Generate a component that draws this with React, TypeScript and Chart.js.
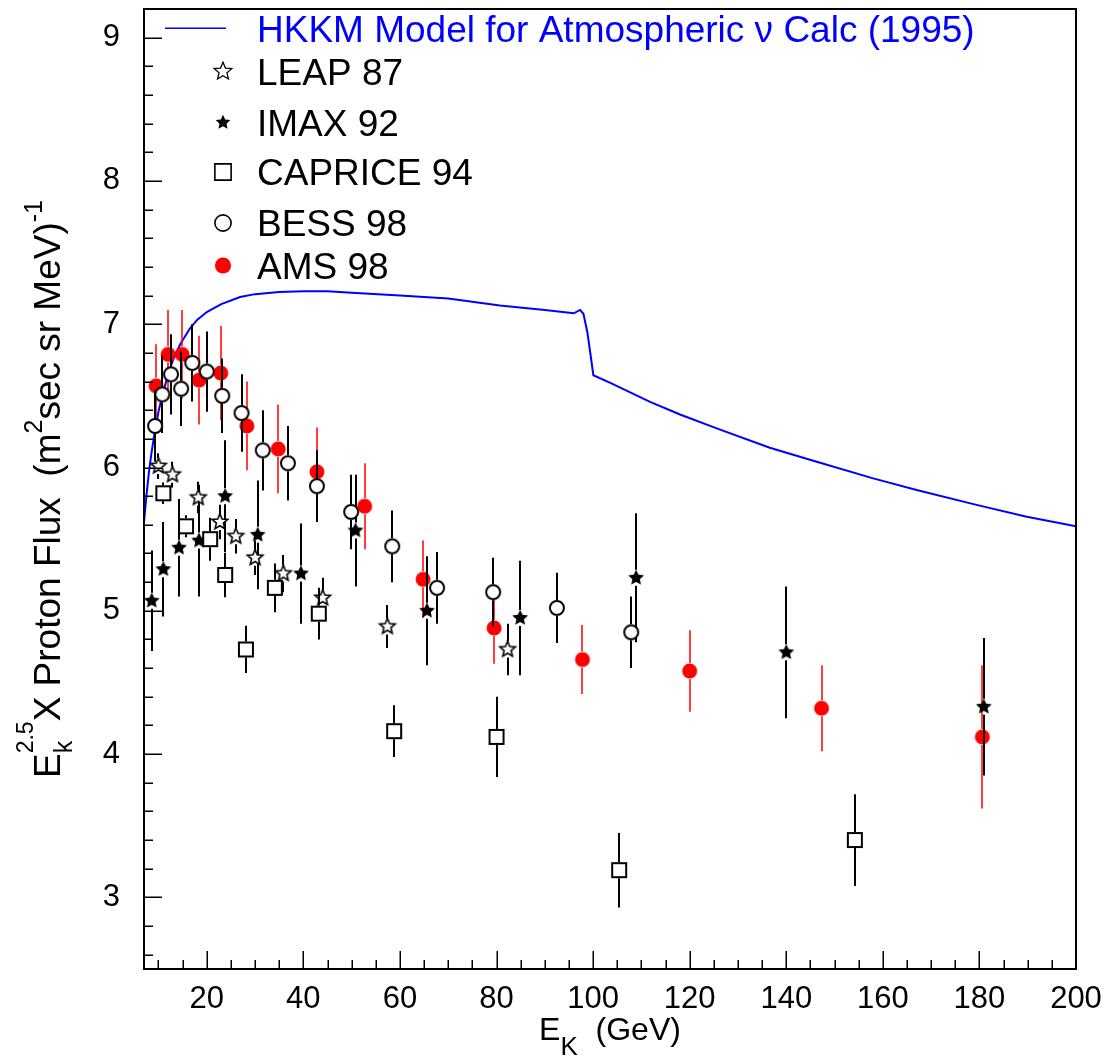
import React, { useEffect, useRef } from "react";
import { Chart, registerables } from "chart.js";

Chart.register(...registerables);

const FONT = '"Liberation Sans", Arial, Helvetica, sans-serif';

// Axis tick values
const X_TICKS = [20, 40, 60, 80, 100, 120, 140, 160, 180, 200];
const Y_TICKS = [3, 4, 5, 6, 7, 8, 9];

// HKKM model (1995) curve
const HKKM_E = [7.0, 7.5, 8.0, 8.5, 9.0, 9.5, 10.0, 11.0, 12.0, 13.0, 14.5, 16.5, 18.0, 20.0, 23.0, 26.9, 30.0, 35.0, 40.0, 45.0, 50.0, 60.0, 70.0, 80.7, 90.0, 96.0, 97.3, 98.0, 98.8, 99.5, 100.05, 103.9, 111.8, 118.0, 125.6, 136.6, 145.6, 158.0, 167.0, 179.4, 189.8, 200.0];
const HKKM_FLUX = [5.62, 5.8, 5.96, 6.09, 6.2, 6.3, 6.39, 6.53, 6.65, 6.75, 6.86, 6.97, 7.03, 7.085, 7.14, 7.19, 7.21, 7.225, 7.23, 7.23, 7.22, 7.2, 7.18, 7.13, 7.1, 7.076, 7.1, 7.073, 6.946, 6.78, 6.644, 6.586, 6.458, 6.37, 6.273, 6.138, 6.047, 5.924, 5.843, 5.739, 5.657, 5.59];

// LEAP 87
const LEAP_E = [10.0, 12.9, 18.25, 22.7, 26.0, 30.0, 35.85, 44.0, 57.4, 82.3];
const LEAP_FLUX = [6.01, 5.95, 5.79, 5.62, 5.52, 5.37, 5.26, 5.09, 4.89, 4.73];
const LEAP_ERR = [0.09, 0.09, 0.11, 0.12, 0.12, 0.12, 0.13, 0.14, 0.15, 0.18];

// IMAX 92
const IMAX_E = [8.6, 11.0, 14.25, 18.4, 23.8, 30.55, 39.5, 50.8, 65.6, 84.9, 108.9, 140.0, 180.9];
const IMAX_FLUX = [5.07, 5.29, 5.44, 5.49, 5.8, 5.53, 5.26, 5.56, 5.0, 4.95, 5.23, 4.71, 4.33];
const IMAX_ERR = [0.35, 0.33, 0.34, 0.39, 0.39, 0.38, 0.35, 0.39, 0.38, 0.4, 0.45, 0.46, 0.48];

// CAPRICE 94
const CAPRICE_E = [11.0, 15.7, 20.7, 23.8, 28.1, 34.1, 43.2, 58.8, 80.0, 105.4, 154.2];
const CAPRICE_FLUX = [5.82, 5.59, 5.5, 5.25, 4.73, 5.16, 4.98, 4.16, 4.12, 3.19, 3.4];
const CAPRICE_ERR = [0.075, 0.077, 0.15, 0.155, 0.165, 0.17, 0.18, 0.18, 0.28, 0.26, 0.32];

// BESS 98
const BESS_E = [9.3, 10.8, 12.6, 14.7, 17.0, 20.0, 23.2, 27.2, 31.6, 36.8, 42.8, 49.9, 58.4, 67.7, 79.3, 92.5, 107.9];
const BESS_FLUX = [6.29, 6.51, 6.65, 6.55, 6.73, 6.67, 6.5, 6.38, 6.12, 6.03, 5.87, 5.69, 5.45, 5.16, 5.13, 5.02, 4.85];
const BESS_ERR = [0.25, 0.27, 0.28, 0.26, 0.27, 0.28, 0.26, 0.27, 0.28, 0.26, 0.25, 0.26, 0.25, 0.25, 0.24, 0.245, 0.25];

// AMS 98
const AMS_E = [9.5, 12.0, 14.9, 18.4, 22.9, 28.3, 34.8, 42.8, 52.7, 64.8, 79.5, 97.8, 120.0, 147.3, 180.6];
const AMS_FLUX = [6.57, 6.79, 6.79, 6.61, 6.66, 6.29, 6.13, 5.97, 5.73, 5.22, 4.88, 4.66, 4.58, 4.32, 4.12];
const AMS_ERR = [0.29, 0.31, 0.31, 0.31, 0.33, 0.31, 0.31, 0.31, 0.3, 0.27, 0.25, 0.24, 0.285, 0.3, 0.5];

const LEGEND_LABELS = [
  "HKKM Model for Atmospheric \u03bd Calc (1995)",
  "LEAP 87",
  "IMAX 92",
  "CAPRICE 94",
  "BESS 98",
  "AMS 98",
];

type MarkerKind = "openStar" | "filledStar" | "openSquare" | "openCircle" | "redDot";

function starPath(ctx: CanvasRenderingContext2D, cx: number, cy: number, R: number, r: number) {
  ctx.beginPath();
  for (let i = 0; i < 10; i++) {
    const rad = i % 2 === 0 ? R : r;
    const a = -Math.PI / 2 + (i * Math.PI) / 5;
    const x = cx + rad * Math.cos(a);
    const y = cy + rad * Math.sin(a);
    if (i === 0) ctx.moveTo(x, y);
    else ctx.lineTo(x, y);
  }
  ctx.closePath();
}

function drawMarker(ctx: CanvasRenderingContext2D, kind: MarkerKind, cx: number, cy: number, s: number, lw: number) {
  ctx.save();
  ctx.lineJoin = "miter";
  switch (kind) {
    case "openStar":
      starPath(ctx, cx, cy, 8.2 * s, 3.7 * s);
      ctx.fillStyle = "#fff";
      ctx.fill();
      ctx.strokeStyle = "#000";
      ctx.lineWidth = lw * 0.8;
      ctx.stroke();
      break;
    case "filledStar":
      starPath(ctx, cx, cy, 8.3 * s, 4.0 * s);
      ctx.fillStyle = "#000";
      ctx.fill();
      break;
    case "openSquare":
      ctx.beginPath();
      ctx.rect(cx - 7 * s, cy - 7 * s, 14 * s, 14 * s);
      ctx.fillStyle = "#fff";
      ctx.fill();
      ctx.strokeStyle = "#000";
      ctx.lineWidth = lw;
      ctx.stroke();
      break;
    case "openCircle":
      ctx.beginPath();
      ctx.arc(cx, cy, 7.0 * s, 0, Math.PI * 2);
      ctx.fillStyle = "#fff";
      ctx.fill();
      ctx.strokeStyle = "#000";
      ctx.lineWidth = lw;
      ctx.stroke();
      break;
    case "redDot":
      ctx.beginPath();
      ctx.arc(cx, cy, 7.5 * s, 0, Math.PI * 2);
      ctx.fillStyle = "#ff0000";
      ctx.fill();
      break;
  }
  ctx.restore();
}

function markerCanvas(kind: MarkerKind): HTMLCanvasElement {
  const c = document.createElement("canvas");
  c.width = 24;
  c.height = 24;
  const ctx = c.getContext("2d")!;
  drawMarker(ctx, kind, 12, 12, 1, 2);
  return c;
}

function pts(xs: number[], ys: number[]) {
  return xs.map((x, i) => ({ x, y: ys[i] }));
}

const errorBarPlugin = {
  id: "errorBars",
  beforeDatasetDraw(chart: any, args: any) {
    const ds = chart.data.datasets[args.index];
    if (!ds.errors) return;
    const ctx = chart.ctx as CanvasRenderingContext2D;
    const xs = chart.scales.x;
    const ys = chart.scales.y;
    ctx.save();
    ctx.strokeStyle = ds.errColor;
    ctx.lineWidth = ds.errWidth;
    const gap = 8;
    ds.data.forEach((p: any, i: number) => {
      const e = ds.errors[i];
      const px = Math.round(xs.getPixelForValue(p.x));
      const py = ys.getPixelForValue(p.y);
      const top = ys.getPixelForValue(p.y + e);
      const bot = ys.getPixelForValue(p.y - e);
      ctx.beginPath();
      if (py - top > gap) {
        ctx.moveTo(px, top);
        ctx.lineTo(px, py - gap);
      }
      if (bot - py > gap) {
        ctx.moveTo(px, py + gap);
        ctx.lineTo(px, bot);
      }
      ctx.stroke();
    });
    ctx.restore();
  },
};

type Seg = { t: string; s: number; dy: number } | { stack: { t: string; s: number; dy: number }[] };

function richWidth(ctx: CanvasRenderingContext2D, segs: Seg[]) {
  let w = 0;
  for (const g of segs) {
    if ("stack" in g) {
      let m = 0;
      for (const p of g.stack) {
        ctx.font = `${p.s}px ${FONT}`;
        m = Math.max(m, ctx.measureText(p.t).width);
      }
      w += m;
    } else {
      ctx.font = `${g.s}px ${FONT}`;
      w += ctx.measureText(g.t).width;
    }
  }
  return w;
}

function richDraw(ctx: CanvasRenderingContext2D, segs: Seg[], x0: number) {
  let x = x0;
  for (const g of segs) {
    if ("stack" in g) {
      let m = 0;
      for (const p of g.stack) {
        ctx.font = `${p.s}px ${FONT}`;
        ctx.fillText(p.t, x, p.dy);
        m = Math.max(m, ctx.measureText(p.t).width);
      }
      x += m;
    } else {
      ctx.font = `${g.s}px ${FONT}`;
      ctx.fillText(g.t, x, g.dy);
      x += ctx.measureText(g.t).width;
    }
  }
}

const decorPlugin = {
  id: "decor",
  afterDraw(chart: any) {
    const ctx = chart.ctx as CanvasRenderingContext2D;
    const { left, right, top, bottom } = chart.chartArea;
    const xs = chart.scales.x;
    const ys = chart.scales.y;
    ctx.save();
    // ticks
    ctx.strokeStyle = "#000";
    ctx.lineWidth = 1.5;
    ctx.beginPath();
    for (let k = 13; k <= 45; k++) {
      const v = k / 5;
      const py = Math.round(ys.getPixelForValue(v)) + 0.25;
      const len = k % 5 === 0 ? 18 : 9;
      ctx.moveTo(left, py);
      ctx.lineTo(left + len, py);
    }
    for (let k = 2; k <= 39; k++) {
      const v = k * 5;
      const px = Math.round(xs.getPixelForValue(v)) + 0.25;
      const len = v % 20 === 0 ? 18 : 9;
      ctx.moveTo(px, bottom);
      ctx.lineTo(px, bottom - len);
    }
    ctx.stroke();
    // frame
    ctx.lineWidth = 2;
    ctx.strokeRect(left, top, right - left, bottom - top);

    // legend
    const lx = 223;
    const tx = 257;
    const rows = [28.3, 71.5, 122.5, 172, 223, 265.5];
    ctx.textBaseline = "alphabetic";
    ctx.textAlign = "left";
    ctx.font = `37px ${FONT}`;
    ctx.strokeStyle = "#0000ff";
    ctx.lineWidth = 1.5;
    ctx.beginPath();
    ctx.moveTo(165, rows[0]);
    ctx.lineTo(226, rows[0]);
    ctx.stroke();
    ctx.fillStyle = "#0000ff";
    ctx.fillText(LEGEND_LABELS[0], tx, rows[0] + 13.3);
    const kinds: MarkerKind[] = ["openStar", "filledStar", "openSquare", "openCircle", "redDot"];
    const scales = [1.13, 0.93, 1.16, 1.16, 1.07];
    kinds.forEach((k, i) => {
      drawMarker(ctx, k, lx, rows[i + 1], scales[i], 1.6);
      ctx.font = `37px ${FONT}`;
      ctx.fillStyle = "#000";
      ctx.fillText(LEGEND_LABELS[i + 1], tx, rows[i + 1] + 13.3);
    });

    // x title: E_K (GeV)
    ctx.fillStyle = "#000";
    const cx = (left + right) / 2;
    const xsegs: Seg[] = [
      { t: "E", s: 32, dy: 0 },
      { t: "K", s: 26, dy: 15 },
      { t: "  (GeV)", s: 32, dy: 0 },
    ];
    const wx = richWidth(ctx, xsegs);
    ctx.save();
    ctx.translate(0, 1040);
    richDraw(ctx, xsegs, cx - wx / 2);
    ctx.restore();

    // y title
    const ysegs: Seg[] = [
      { t: "E", s: 37, dy: 0 },
      { stack: [ { t: "k", s: 25, dy: 12 }, { t: "2.5", s: 23, dy: -27 } ] },
      { t: "X Proton Flux  (m", s: 37, dy: 0 },
      { t: "2", s: 25, dy: -18 },
      { t: "sec sr MeV)", s: 37, dy: 0 },
      { t: "-1", s: 25, dy: -18 },
    ];
    const wy = richWidth(ctx, ysegs);
    ctx.save();
    ctx.translate(60, 489);
    ctx.rotate(-Math.PI / 2);
    richDraw(ctx, ysegs, -wy / 2);
    ctx.restore();

    ctx.restore();
  },
};

export default function App() {
  const ref = useRef<HTMLCanvasElement | null>(null);
  useEffect(() => {
    const canvas = ref.current;
    if (!canvas) return;
    const mk = {
      openStar: markerCanvas("openStar"),
      filledStar: markerCanvas("filledStar"),
      openSquare: markerCanvas("openSquare"),
      openCircle: markerCanvas("openCircle"),
      redDot: markerCanvas("redDot"),
    };
    const base = { type: "scatter", showLine: false, pointRadius: 8, pointHoverRadius: 8 };
    const chart = new Chart(canvas, {
      type: "scatter",
      data: {
        datasets: [
          { ...base, label: LEGEND_LABELS[4], data: pts(BESS_E, BESS_FLUX), pointStyle: mk.openCircle, errors: BESS_ERR, errColor: "#000", errWidth: 2 },
          { ...base, label: LEGEND_LABELS[3], data: pts(CAPRICE_E, CAPRICE_FLUX), pointStyle: mk.openSquare, errors: CAPRICE_ERR, errColor: "#000", errWidth: 2 },
          { ...base, label: LEGEND_LABELS[1], data: pts(LEAP_E, LEAP_FLUX), pointStyle: mk.openStar, errors: LEAP_ERR, errColor: "#000", errWidth: 2 },
          { ...base, label: LEGEND_LABELS[2], data: pts(IMAX_E, IMAX_FLUX), pointStyle: mk.filledStar, errors: IMAX_ERR, errColor: "#000", errWidth: 2 },
          { ...base, label: LEGEND_LABELS[5], data: pts(AMS_E, AMS_FLUX), pointStyle: mk.redDot, errors: AMS_ERR, errColor: "#ff0000", errWidth: 1.5 },
          {
            type: "scatter",
            label: LEGEND_LABELS[0],
            data: pts(HKKM_E, HKKM_FLUX),
            showLine: true,
            pointRadius: 0,
            borderColor: "#0000ff",
            borderWidth: 2,
            tension: 0,
            fill: false,
          },
        ] as any,
      },
      options: {
        responsive: false,
        animation: false,
        events: [],
        layout: { padding: { top: 7, right: 30, left: 0, bottom: 0 } },
        plugins: { legend: { display: false }, tooltip: { enabled: false } },
        scales: {
          x: {
            type: "linear",
            min: 7,
            max: 200,
            grid: { display: false, drawTicks: false },
            border: { display: false },
            ticks: { font: { family: FONT, size: 31 }, color: "#000", padding: 12, maxRotation: 0, autoSkip: false },
            afterBuildTicks: (s: any) => {
              s.ticks = X_TICKS.map((v) => ({ value: v }));
            },
            afterFit: (s: any) => {
              s.height = 89;
              s.paddingLeft = 0;
              s.paddingRight = 0;
              s.paddingTop = 0;
              s.paddingBottom = 0;
            },
          },
          y: {
            type: "linear",
            min: 2.5,
            max: 9.2,
            grid: { display: false, drawTicks: false },
            border: { display: false },
            ticks: { font: { family: FONT, size: 31 }, color: "#000", padding: 24, autoSkip: false },
            afterBuildTicks: (s: any) => {
              s.ticks = Y_TICKS.map((v) => ({ value: v }));
            },
            afterFit: (s: any) => {
              s.width = 144;
              s.paddingLeft = 0;
              s.paddingRight = 0;
              s.paddingTop = 0;
              s.paddingBottom = 0;
            },
          },
        },
      } as any,
      plugins: [errorBarPlugin, decorPlugin],
    });
    return () => chart.destroy();
  }, []);
  return (
    <div style={{ position: "fixed", left: 0, top: 0, width: 1106, height: 1058, background: "#fff" }}>
      <canvas ref={ref} width={1106} height={1058} style={{ display: "block" }} />
    </div>
  );
}
